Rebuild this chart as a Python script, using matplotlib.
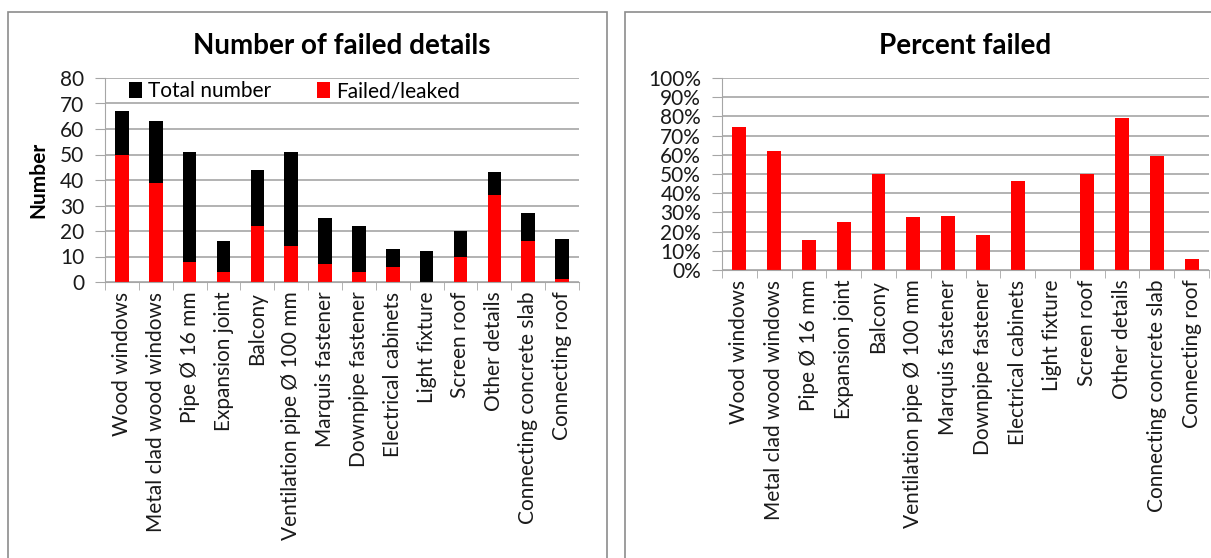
import matplotlib.pyplot as plt
import numpy as np
from matplotlib.patches import Rectangle
from matplotlib.ticker import FixedLocator, PercentFormatter

plt.rcParams['font.family'] = ['Lato', 'DejaVu Sans']

categories = ['Wood windows', 'Metal clad wood windows', 'Pipe Ø 16 mm', 'Expansion joint',
              'Balcony', 'Ventilation pipe Ø 100 mm', 'Marquis fastener', 'Downpipe fastener',
              'Electrical cabinets', 'Light fixture', 'Screen roof', 'Other details',
              'Connecting concrete slab', 'Connecting roof']
total_number = [67, 63, 51, 16, 44, 51, 25, 22, 13, 12, 20, 43, 27, 17]
failed_leaked = [50, 39, 8, 4, 22, 14, 7, 4, 6, 0, 10, 34, 16, 1]
percent_failed = [74.6, 61.9, 15.7, 25, 50, 27.5, 28, 18.2, 46.2, 0, 50, 79.1, 59.3, 5.9]

W, H = 1211, 558
fig = plt.figure(figsize=(W / 100, H / 100), dpi=100)

# panel frames
for x0, x1 in [(8, 607), (625, 1215)]:
    fig.patches.append(Rectangle((x0 / W, -0.05), (x1 - x0) / W, 1.05 - 12 / H,
                                 transform=fig.transFigure, fill=False,
                                 edgecolor='#8c8c8c', lw=1.2))

x = np.arange(len(categories))
grid_c = '#a6a6a6'
fs = 15


def style(ax):
    ax.set_xlim(-0.5, len(categories) - 0.5)
    ax.set_xticks(x)
    ax.set_xticklabels(categories, rotation=90, fontsize=fs, color='#1a1a1a')
    ax.xaxis.set_minor_locator(FixedLocator(np.arange(-0.5, len(categories), 1)))
    ax.tick_params(axis='x', which='major', length=0, pad=7)
    ax.tick_params(axis='x', which='minor', length=6, color=grid_c)
    ax.tick_params(axis='y', length=7, color=grid_c, labelsize=fs, pad=8,
                   labelcolor='#1a1a1a')
    ax.grid(axis='y', color=grid_c, lw=1.2)
    ax.set_axisbelow(True)
    for s in ['top', 'right']:
        ax.spines[s].set_visible(False)
    for s in ['left', 'bottom']:
        ax.spines[s].set_color(grid_c)


ax1 = fig.add_axes([105 / W, 1 - 282 / H, 474 / W, 204 / H])
ax1.bar(x, total_number, width=0.4, color='black', label='Total number')
ax1.bar(x, failed_leaked, width=0.4, color='#ff0000', label='Failed/leaked')
ax1.set_ylim(0, 80)
ax1.set_yticks(range(0, 81, 10))
style(ax1)
ax1.set_ylabel('Number', fontsize=fs, fontweight='bold', labelpad=8)
ax1.set_title('Number of failed details', fontsize=20, fontweight='bold', pad=17)
ax1.legend(loc='upper center', ncol=2, frameon=False, fontsize=fs,
           handlelength=0.6, handleheight=0.8, handletextpad=0.3, columnspacing=2.2,
           bbox_to_anchor=(0.4, 1.075))

ax2 = fig.add_axes([722 / W, 1 - 270 / H, 487 / W, 192 / H])
ax2.bar(x, percent_failed, width=0.4, color='#ff0000')
ax2.set_ylim(0, 100)
ax2.set_yticks(range(0, 101, 10))
ax2.yaxis.set_major_formatter(PercentFormatter(decimals=0))
style(ax2)
ax2.set_title('Percent failed', fontsize=20, fontweight='bold', pad=17)

fig.savefig('out.png', dpi=100)
